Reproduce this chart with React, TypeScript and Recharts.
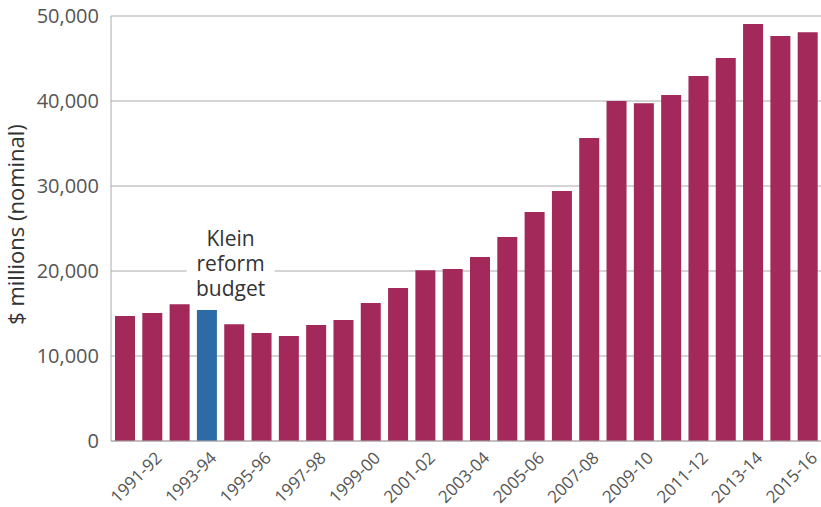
import React from "react";
import { BarChart, Bar, XAxis, YAxis, CartesianGrid, Cell, ReferenceDot, Label } from "recharts";

const categories = [
  "1990-91", "1991-92", "1992-93", "1993-94", "1994-95", "1995-96", "1996-97",
  "1997-98", "1998-99", "1999-00", "2000-01", "2001-02", "2002-03", "2003-04",
  "2004-05", "2005-06", "2006-07", "2007-08", "2008-09", "2009-10", "2010-11",
  "2011-12", "2012-13", "2013-14", "2014-15", "2015-16",
];

const spending = [
  14700, 15050, 16100, 15400, 13750, 12700, 12350,
  13650, 14250, 16250, 18000, 20100, 20250, 21650,
  24000, 26950, 29400, 35650, 40000, 39750, 40700,
  42950, 45050, 49050, 47650, 48100,
];

const yTicks = [0, 10000, 20000, 30000, 40000, 50000];
const highlightYear = "1993-94";
const annotationLines = ["Klein", "reform", "budget"];
const yAxisTitle = "$ millions (nominal)";

const MAIN = "#A2295A";
const HIGHLIGHT = "#2E6BA6";
const FONT = "'Open Sans', 'Noto Sans', sans-serif";

const data = categories.map((c, i) => ({ year: c, value: spending[i] }));

const XTick = (props: any) => {
  const { x, y, payload } = props;
  const idx = categories.indexOf(payload.value);
  if (idx % 2 !== 1) return null;
  return (
    <g transform={`translate(${x + 11},${y + 18}) rotate(-45)`}>
      <text x={0} y={0} textAnchor="end" fill="#555" fontSize={17} fontFamily={FONT}>
        {payload.value}
      </text>
    </g>
  );
};

const Annotation = (props: any) => {
  const { cx, cy } = props;
  const tx = cx + 24;
  return (
    <g>
      <rect x={tx - 44} y={cy - 42} width={88} height={68} fill="#fff" />
      <text x={tx} y={cy - 25} textAnchor="middle" fill="#333" fontSize={21} fontFamily={FONT}>
        {annotationLines.map((t, i) => (
          <tspan key={t} x={tx} dy={i === 0 ? 0 : 25}>
            {t}
          </tspan>
        ))}
      </text>
    </g>
  );
};

const YTitle = (props: any) => {
  const { viewBox } = props;
  const cy = viewBox.y + viewBox.height / 2 - 4;
  return (
    <text
      x={24}
      y={cy}
      transform={`rotate(-90, 24, ${cy})`}
      textAnchor="middle"
      fill="#333"
      fontSize={22}
      fontFamily={FONT}
    >
      {yAxisTitle}
    </text>
  );
};

export default function App() {
  return (
    <div style={{ position: "absolute", left: 0, top: 0, background: "#fff" }}>
      <BarChart
        width={821}
        height={507}
        data={data}
        margin={{ top: 16, right: 0, bottom: 0, left: 0 }}
        barSize={20}
      >
        <CartesianGrid vertical={false} stroke="#aaa" strokeWidth={1} />
        <XAxis
          dataKey="year"
          interval={0}
          tick={<XTick />}
          tickLine={false}
          tickSize={0}
          tickMargin={0}
          axisLine={{ stroke: "#aaa" }}
          height={66}
        />
        <YAxis
          domain={[0, 50000]}
          ticks={yTicks}
          width={111}
          tickLine={false}
          tickSize={0}
          tickMargin={12}
          axisLine={{ stroke: "#aaa" }}
          tickFormatter={(v: number) => v.toLocaleString("en-US")}
          tick={{ fill: "#555", fontSize: 20, fontFamily: FONT }}
        >
          <Label content={<YTitle />} />
        </YAxis>
        <Bar dataKey="value" isAnimationActive={false}>
          {data.map((d) => (
            <Cell key={d.year} fill={d.year === highlightYear ? HIGHLIGHT : MAIN} />
          ))}
        </Bar>
        <ReferenceDot x={highlightYear} y={20000} r={0} shape={<Annotation />} ifOverflow="visible" />
      </BarChart>
    </div>
  );
}
